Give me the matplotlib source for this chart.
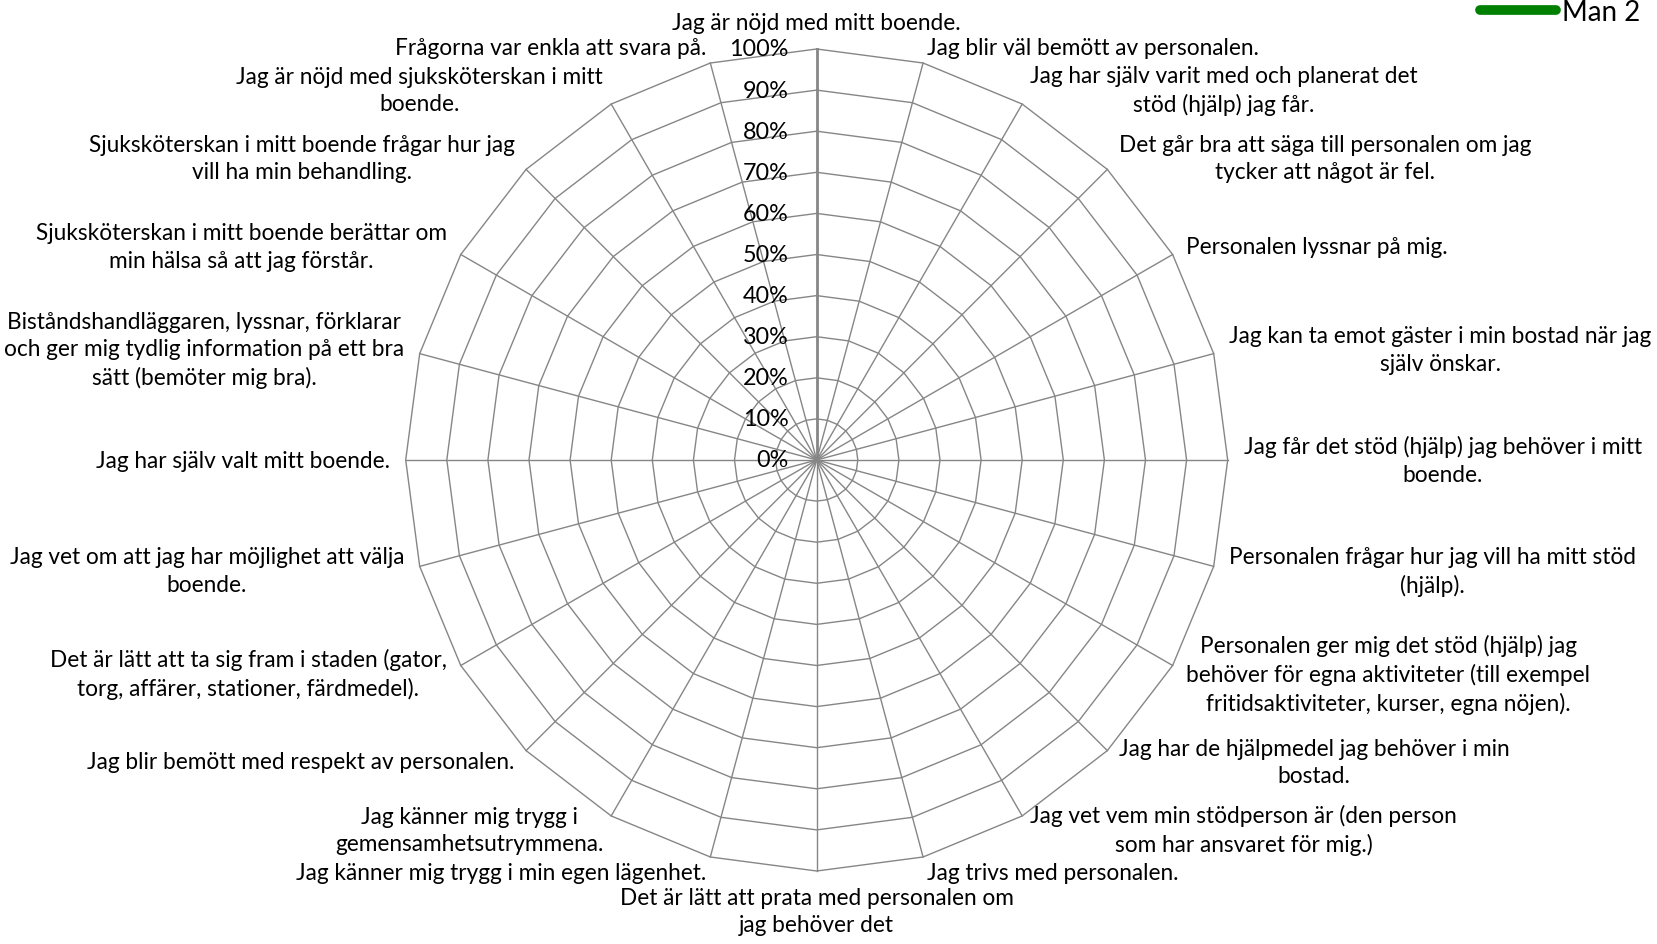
import numpy as np
import matplotlib.pyplot as plt

plt.rcParams['font.family'] = ['Lato', 'DejaVu Sans']

# frågor (kategorier), medsols från toppen
categories = [
    "Jag är nöjd med mitt boende.",
    "Jag blir väl bemött av personalen.",
    "Jag har själv varit med och planerat det\nstöd (hjälp) jag får.",
    "Det går bra att säga till personalen om jag\ntycker att något är fel.",
    "Personalen lyssnar på mig.",
    "Jag kan ta emot gäster i min bostad när jag\nsjälv önskar.",
    "Jag får det stöd (hjälp) jag behöver i mitt\nboende.",
    "Personalen frågar hur jag vill ha mitt stöd\n(hjälp).",
    "Personalen ger mig det stöd (hjälp) jag\nbehöver för egna aktiviteter (till exempel\nfritidsaktiviteter, kurser, egna nöjen).",
    "Jag har de hjälpmedel jag behöver i min\nbostad.",
    "Jag vet vem min stödperson är (den person\nsom har ansvaret för mig.)",
    "Jag trivs med personalen.",
    "Det är lätt att prata med personalen om\njag behöver det",
    "Jag känner mig trygg i min egen lägenhet.",
    "Jag känner mig trygg i\ngemensamhetsutrymmena.",
    "Jag blir bemött med respekt av personalen.",
    "Det är lätt att ta sig fram i staden (gator,\ntorg, affärer, stationer, färdmedel).",
    "Jag vet om att jag har möjlighet att välja\nboende.",
    "Jag har själv valt mitt boende.",
    "Biståndshandläggaren, lyssnar, förklarar\noch ger mig tydlig information på ett bra\nsätt (bemöter mig bra).",
    "Sjuksköterskan i mitt boende berättar om\nmin hälsa så att jag förstår.",
    "Sjuksköterskan i mitt boende frågar hur jag\nvill ha min behandling.",
    "Jag är nöjd med sjuksköterskan i mitt\nboende.",
    "Frågorna var enkla att svara på.",
]

# serien saknar värden i diagrammet
man2 = [np.nan] * len(categories)
series_name = "Man 2"

ticks = [0.0, 0.1, 0.2, 0.3, 0.4, 0.5, 0.6, 0.7, 0.8, 0.9, 1.0]
tick_labels = ["0%", "10%", "20%", "30%", "40%", "50%", "60%", "70%", "80%", "90%", "100%"]

grid = '#868686'
R = 411.0            # px för 100%
cx, cy = 816.7, 461  # centrum i px (y från toppen)
W, H = 1658, 945

fig = plt.figure(figsize=(W / 100, H / 100), dpi=100)
ax = fig.add_axes([0, 0, 1, 1])
ax.set_xlim(-cx / R, (W - cx) / R)
ax.set_ylim(-(H - cy) / R, cy / R)
ax.axis('off')

n = len(categories)
theta = np.arange(n) * 2 * np.pi / n
sx, sy = np.sin(theta), np.cos(theta)

# ringar
for r in ticks[1:]:
    ax.plot(np.append(sx, sx[0]) * r, np.append(sy, sy[0]) * r, color=grid, lw=1.0, zorder=1)
# ekrar
for i in range(n):
    ax.plot([0, sx[i] * ticks[-1]], [0, sy[i] * ticks[-1]], color=grid,
            lw=2.0 if i == 0 else 1.0, zorder=1)

# värdeaxelns etiketter
for t, lab in zip(ticks, tick_labels):
    ax.text(-28 / R, t, lab, ha='right', va='center', fontsize=16.8, color='black')

# kategorietiketter
g = 16 / R
for i, lab in enumerate(categories):
    s, c = sx[i], sy[i]
    x, y = (1 + g) * s, (1 + g) * c
    if s > 0.01:
        ha, va = 'left', 'center'
    elif s < -0.01:
        ha, va = 'right', 'center'
    else:
        ha = 'center'
        va = 'bottom' if c > 0 else 'top'
    ax.text(x, y, lab, ha=ha, va=va, multialignment='center', fontsize=16.3,
            linespacing=1.38, color='black')

# serien
vals = np.array(man2, dtype=float)
ax.plot(np.append(vals * sx, vals[0] * sx[0]), np.append(vals * sy, vals[0] * sy[0]),
        color='#008000', lw=7, solid_capstyle='round', label=series_name, zorder=3)

ax.legend(loc='upper left', bbox_to_anchor=(1480 / W, 1.0), bbox_transform=fig.transFigure,
          frameon=False, borderaxespad=0, borderpad=0.0, handlelength=2.75,
          handletextpad=0.2, fontsize=20)

fig.savefig('out.png', dpi=100)
